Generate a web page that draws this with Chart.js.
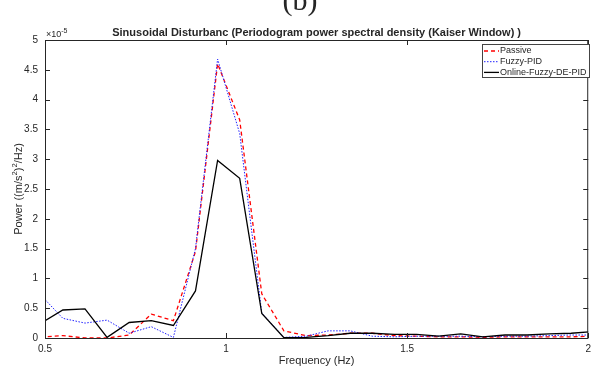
<!DOCTYPE html>
<html>
<head>
<meta charset="utf-8">
<script src="https://cdn.jsdelivr.net/npm/chart.js@4"></script>
<style>
    html, body { margin: 0; padding: 0; background: #fff; }
    #wrap { position: relative; width: 596px; height: 370px; }
</style>
</head>
<body>
<div id="wrap"><canvas id="psdChart" width="596" height="370"></canvas></div>
<script>
// Frequency bins (Hz) and PSD values, in units of 1e-5 (m/s^2)^2/Hz
const FREQ = [0.4883, 0.5493, 0.6104, 0.6714, 0.7324, 0.7935, 0.8545, 0.9155, 0.9766, 1.0376,
              1.0986, 1.1597, 1.2207, 1.2817, 1.3428, 1.4038, 1.4648, 1.5259, 1.5869, 1.6479,
              1.7090, 1.7700, 1.8311, 1.8921, 1.9531, 2.0142];
const PASSIVE = [0.015, 0.04, 0.00, 0.00, 0.05, 0.40, 0.29, 1.45, 4.60, 3.66,
                 0.74, 0.12, 0.04, 0.05, 0.08, 0.08, 0.04, 0.03, 0.02, 0.02,
                 0.01, 0.02, 0.02, 0.02, 0.02, 0.03];
const FUZZY_PID = [0.72, 0.33, 0.25, 0.30, 0.08, 0.19, 0.01, 1.50, 4.68, 3.43,
                   0.42, 0.01, 0.03, 0.12, 0.12, 0.03, 0.02, 0.03, 0.03, 0.03,
                   0.02, 0.03, 0.03, 0.04, 0.05, 0.05];
const ONLINE_DE_PID = [0.245, 0.47, 0.49, 0.01, 0.26, 0.29, 0.21, 0.79, 2.98, 2.68,
                       0.41, 0.005, 0.01, 0.04, 0.08, 0.08, 0.06, 0.06, 0.03, 0.07,
                       0.02, 0.05, 0.05, 0.07, 0.08, 0.11];
const SERIES_NAMES = ['Passive', 'Fuzzy-PID', 'Online-Fuzzy-DE-PID'];
const X_TICKS = [0.5, 1, 1.5, 2];
const Y_TICKS = [0, 0.5, 1, 1.5, 2, 2.5, 3, 3.5, 4, 4.5, 5];

const AXIS_COLOR = '#262626';
const FONT = "'Liberation Sans', Arial, sans-serif";

function toPoints(values) {
    return FREQ.map((f, i) => ({ x: f, y: values[i] }));
}

// Draw centred text with superscript runs: parts = [[text, isSup], ...]
function drawRuns(ctx, parts, x, y, size) {
    const total = parts.reduce((w, p) => {
        ctx.font = `${p[1] ? size * 0.7 : size}px ${FONT}`;
        return w + ctx.measureText(p[0]).width;
    }, 0);
    let cx = x - total / 2;
    parts.forEach(p => {
        ctx.font = `${p[1] ? size * 0.7 : size}px ${FONT}`;
        ctx.fillText(p[0], cx, p[1] ? y - size * 0.4 : y);
        cx += ctx.measureText(p[0]).width;
    });
}

// MATLAB-like frame, inward ticks, titles and legend
const matlabFrame = {
    id: 'matlabFrame',
    afterDraw(chart) {
        const { ctx, chartArea: a, scales } = chart;
        ctx.save();

        // frame
        ctx.strokeStyle = AXIS_COLOR;
        ctx.lineWidth = 1;
        ctx.strokeRect(a.left + 0.5, a.top + 0.5, a.right - a.left - 1, a.bottom - a.top);

        // inward ticks
        ctx.beginPath();
        X_TICKS.forEach(v => {
            const x = Math.round(scales.x.getPixelForValue(v)) + 0.5;
            ctx.moveTo(x, a.bottom); ctx.lineTo(x, a.bottom - 5);
            ctx.moveTo(x, a.top); ctx.lineTo(x, a.top + 5);
        });
        Y_TICKS.forEach(v => {
            const y = Math.round(scales.y.getPixelForValue(v)) + 0.5;
            ctx.moveTo(a.left, y); ctx.lineTo(a.left + 5, y);
            ctx.moveTo(a.right, y); ctx.lineTo(a.right - 5, y);
        });
        ctx.stroke();

        ctx.fillStyle = AXIS_COLOR;

        // exponent
        ctx.textAlign = 'left';
        ctx.textBaseline = 'alphabetic';
        ctx.font = `9px ${FONT}`;
        ctx.fillText('\u00d710', a.left + 1, a.top - 3);
        const w = ctx.measureText('\u00d710').width;
        ctx.font = `7px ${FONT}`;
        ctx.fillText('-5', a.left + 1 + w, a.top - 7);

        // title
        ctx.textAlign = 'center';
        ctx.font = `bold 11px ${FONT}`;
        ctx.fillText('Sinusoidal Disturbanc (Periodogram power spectral density (Kaiser Window) )',
            (a.left + a.right) / 2, a.top - 4);

        // x axis title
        ctx.textBaseline = 'middle';
        ctx.font = `11px ${FONT}`;
        ctx.fillText('Frequency (Hz)', (a.left + a.right) / 2, 361);

        // y axis title
        ctx.save();
        ctx.translate(19, (a.top + a.bottom) / 2);
        ctx.rotate(-Math.PI / 2);
        ctx.textAlign = 'left';
        drawRuns(ctx, [['Power ((m/s', false], ['2', true], [')', false], ['2', true], ['/Hz)', false]], 0, 0, 11);
        ctx.restore();

        // figure label
        ctx.textAlign = 'center';
        ctx.textBaseline = 'alphabetic';
        ctx.font = `30px 'Liberation Serif', serif`;
        ctx.fillText('(b)', 300, 10);

        // legend
        const lx = 482, ly = 44, lw = 107, lh = 33;
        ctx.fillStyle = '#fff';
        ctx.fillRect(lx, ly, lw, lh);
        ctx.strokeStyle = '#444';
        ctx.lineWidth = 1;
        ctx.strokeRect(lx + 0.5, ly + 0.5, lw, lh);
        ctx.font = `9px ${FONT}`;
        ctx.textAlign = 'left';
        ctx.textBaseline = 'middle';
        SERIES_NAMES.forEach((name, i) => {
            const ds = chart.data.datasets.find(d => d.label === name);
            const y = ly + 7 + i * 10.7;
            ctx.strokeStyle = ds.borderColor;
            ctx.lineWidth = ds.borderWidth;
            ctx.setLineDash(ds.borderDash || []);
            ctx.beginPath();
            ctx.moveTo(lx + 2, y); ctx.lineTo(lx + 17, y);
            ctx.stroke();
            ctx.setLineDash([]);
            ctx.fillStyle = AXIS_COLOR;
            ctx.fillText(name, lx + 18, y);
        });

        ctx.restore();
    }
};

new Chart(document.getElementById('psdChart'), {
    type: 'line',
    data: {
        datasets: [
            {
                label: SERIES_NAMES[0],
                data: toPoints(PASSIVE),
                borderColor: '#ff0000',
                borderWidth: 1.3,
                borderDash: [4, 3],
                order: 3
            },
            {
                label: SERIES_NAMES[1],
                data: toPoints(FUZZY_PID),
                borderColor: '#2020ff',
                borderWidth: 1,
                borderDash: [1.5, 1.5],
                order: 2
            },
            {
                label: SERIES_NAMES[2],
                data: toPoints(ONLINE_DE_PID),
                borderColor: '#000000',
                borderWidth: 1.3,
                order: 1
            }
        ]
    },
    options: {
        responsive: false,
        animation: false,
        clip: 0,
        elements: {
            point: { radius: 0 },
            line: { tension: 0 }
        },
        layout: { padding: { left: 0, top: 40, right: 4, bottom: 0 } },
        plugins: {
            legend: { display: false },
            tooltip: { enabled: false }
        },
        scales: {
            x: {
                type: 'linear',
                min: 0.5,
                max: 2,
                afterBuildTicks: s => { s.ticks = X_TICKS.map(v => ({ value: v })); },
                afterFit: s => { s.height = 32; },
                grid: { display: false, drawTicks: false },
                border: { display: false },
                ticks: {
                    padding: 5,
                    maxRotation: 0,
                    color: AXIS_COLOR,
                    font: { family: FONT, size: 10 },
                    callback: v => String(v)
                }
            },
            y: {
                type: 'linear',
                min: 0,
                max: 5,
                afterBuildTicks: s => { s.ticks = Y_TICKS.map(v => ({ value: v })); },
                afterFit: s => { s.width = 45; },
                grid: { display: false, drawTicks: false },
                border: { display: false },
                ticks: {
                    padding: 7,
                    color: AXIS_COLOR,
                    font: { family: FONT, size: 10 },
                    callback: v => String(v)
                }
            }
        }
    },
    plugins: [matlabFrame]
});
</script>
</body>
</html>
